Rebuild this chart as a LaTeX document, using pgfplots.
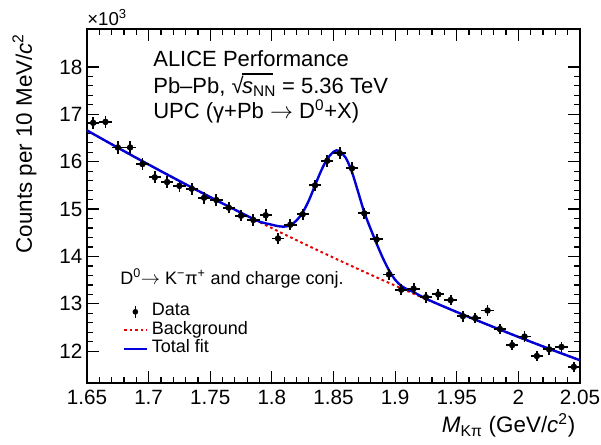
\documentclass[border=0pt]{standalone}
\usepackage{fontspec}
\setmainfont{Liberation Sans}
\usepackage{pgfplots}
\pgfplotsset{compat=1.18}
\usepackage{pgfplotstable}

\definecolor{fitblue}{RGB}{0,0,215}
\definecolor{bkgred}{RGB}{230,0,0}

\pgfplotstableread{
x y ey
1.655 16.82 0.130
1.665 16.84 0.130
1.675 16.30 0.128
1.685 16.30 0.128
1.695 15.95 0.126
1.705 15.67 0.125
1.715 15.57 0.125
1.725 15.49 0.124
1.735 15.43 0.124
1.745 15.24 0.123
1.755 15.19 0.123
1.765 15.03 0.123
1.775 14.86 0.122
1.785 14.77 0.122
1.795 14.87 0.122
1.805 14.38 0.120
1.815 14.67 0.121
1.825 14.89 0.122
1.835 15.50 0.124
1.845 16.02 0.127
1.855 16.18 0.127
1.865 15.86 0.126
1.875 14.91 0.122
1.885 14.36 0.120
1.895 13.62 0.117
1.905 13.30 0.115
1.915 13.32 0.115
1.925 13.14 0.115
1.935 13.20 0.115
1.945 13.08 0.114
1.955 12.74 0.113
1.965 12.70 0.113
1.975 12.86 0.113
1.985 12.47 0.112
1.995 12.13 0.110
2.005 12.31 0.111
2.015 11.90 0.109
2.025 12.04 0.110
2.035 12.09 0.110
2.045 11.67 0.108
}\datatable

\pgfplotstableread{
x y
1.65 16.660
1.67 16.368
1.69 16.081
1.71 15.800
1.73 15.524
1.75 15.253
1.77 14.987
1.79 14.726
1.81 14.470
1.83 14.220
1.85 13.975
1.87 13.735
1.89 13.500
1.91 13.271
1.93 13.047
1.95 12.828
1.97 12.614
1.99 12.405
2.01 12.201
2.03 12.003
2.05 11.810
}\bkgtable

\pgfplotstableread{
x y
1.65 16.660
1.67 16.368
1.69 16.081
1.71 15.800
1.73 15.524
1.75 15.253
1.77 14.987
1.78 14.856
1.79 14.735
1.80 14.670
1.805 14.640
1.81 14.630
1.815 14.660
1.82 14.760
1.825 14.930
1.83 15.180
1.835 15.500
1.84 15.810
1.845 16.060
1.85 16.210
1.8525 16.240
1.855 16.225
1.86 16.080
1.865 15.780
1.87 15.360
1.875 14.930
1.88 14.590
1.885 14.270
1.89 13.970
1.895 13.710
1.90 13.510
1.905 13.380
1.91 13.305
1.915 13.250
1.92 13.175
1.93 13.050
1.95 12.828
1.97 12.614
1.99 12.405
2.01 12.201
2.03 12.003
2.05 11.810
}\fittable

\newcommand{\sqrtsnn}{\mbox{√\kern-0.07em\rlap{\rule[0.835em]{1.42em}{0.06em}}\textit{s}\textsubscript{NN}}}

\begin{document}
\begin{tikzpicture}
\useasboundingbox (-65.25pt,-45.75pt) rectangle (385.5pt,287.25pt);
\begin{axis}[
  at={(0pt,0pt)}, anchor=south west,
  scale only axis,
  width=369.75pt, height=265.5pt,
  xmin=1.65, xmax=2.05, ymin=11.33, ymax=18.8,
  clip=false,
  xtick={1.65,1.7,1.75,1.8,1.85,1.9,1.95,2,2.05},
  xticklabels={1.65,1.7,1.75,1.8,1.85,1.9,1.95,2,2.05},
  ytick={12,13,14,15,16,17,18},
  yticklabels={12,13,14,15,16,17,18},
  minor x tick num=4, minor y tick num=4,
  tick align=inside, xtick pos=both, ytick pos=both,
  xticklabel pos=lower, yticklabel pos=left,
  major tick length=9pt, minor tick length=4.5pt,
  every tick/.style={black, line width=0.9pt},
  axis line style={line width=1.3pt},
  /pgf/number format/assume math mode=true,
  tick label style={font=\fontsize{15.5}{18}\selectfont},
  xticklabel style={yshift=-2pt},
  xlabel={\textit{M}\textsubscript{Kπ} (GeV/\textit{c}\textsuperscript{2})},
  ylabel={Counts per 10 MeV/\textit{c}\textsuperscript{2}},
  label style={font=\fontsize{16.8}{19}\selectfont},
  xlabel style={at={(axis description cs:1,-0.141)}, anchor=base east},
  ylabel style={at={(axis description cs:-0.112,1)}, anchor=base east},
  legend style={at={(axis description cs:0.072,0.228)}, anchor=north west,
    draw=none, fill=none, font=\fontsize{13.5}{15}\selectfont,
    row sep=0pt, column sep=2pt, inner sep=0pt,
    nodes={text height=10pt, text depth=3.9pt, inner ysep=0pt, inner xsep=1pt}},
  legend cell align=left,
]
\addplot[bkgred, line width=1.5pt, dash pattern=on 2pt off 2.2pt, smooth, forget plot] table[x=x,y=y] {\bkgtable};
\addplot[fitblue, line width=1.8pt, smooth, forget plot] table[x=x,y=y] {\fittable};
\addplot[black, only marks, mark=*, mark size=2.2pt, forget plot,
  error bars/.cd, y dir=both, y explicit, x dir=both, x fixed=0.005,
  error mark=none, error bar style={line width=1.4pt, black}]
  table[x=x, y=y, y error=ey] {\datatable};

\addlegendimage{legend image code/.code={
  \draw[black, line width=1pt] (0.3cm,-0.16cm) -- (0.3cm,0.16cm);
  \fill[black] (0.3cm,0cm) circle (1.9pt);}}
\addlegendentry{Data}
\addlegendimage{legend image code/.code={
  \draw[bkgred, line width=1.5pt, dash pattern=on 2pt off 2.2pt] (0cm,0cm) -- (17pt,0cm);}}
\addlegendentry{Background}
\addlegendimage{legend image code/.code={
  \draw[fitblue, line width=1.8pt] (0cm,0cm) -- (17pt,0cm);}}
\addlegendentry{Total fit}

\node[anchor=base west, inner sep=0pt, font=\fontsize{16.5}{19}\selectfont] at (axis description cs:0.134,0.893) {ALICE Performance};
\node[anchor=base west, inner sep=0pt, font=\fontsize{16.5}{19}\selectfont] at (axis description cs:0.134,0.819) {Pb--Pb, \sqrtsnn{} = 5.36 TeV};
\node[anchor=base west, inner sep=0pt, font=\fontsize{16.5}{19}\selectfont] at (axis description cs:0.134,0.746) {UPC (γ+Pb $\rightarrow$ D\textsuperscript{0}+X)};
\node[anchor=base west, inner sep=0pt, font=\fontsize{13.5}{15}\selectfont] at (axis description cs:0.067,0.277) {D\textsuperscript{0}$\rightarrow$ K\textsuperscript{−}π\textsuperscript{+} and charge conj.};
\node[anchor=base west, inner sep=0pt, font=\fontsize{14}{16}\selectfont] at (axis description cs:0.0,1.011) {×10\textsuperscript{3}};
\end{axis}
\end{tikzpicture}
\end{document}
